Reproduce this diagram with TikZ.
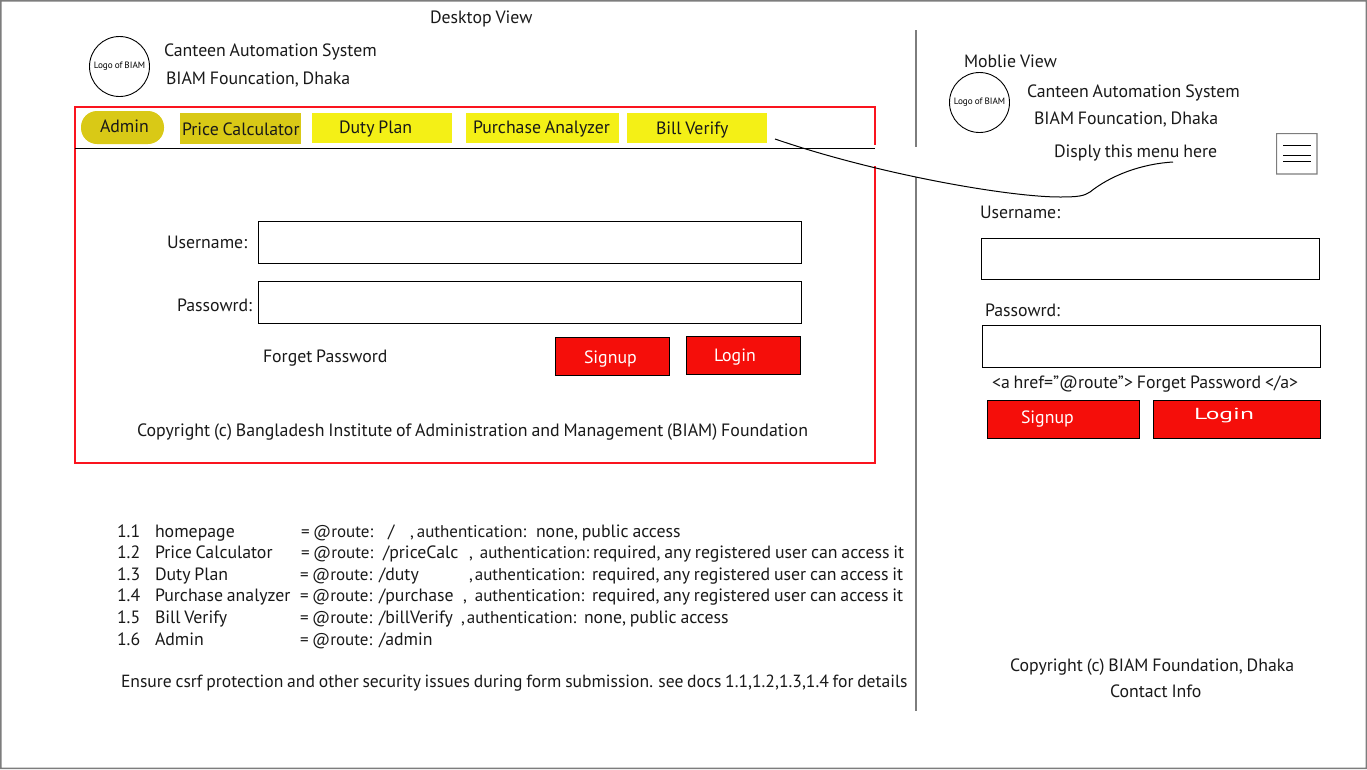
\documentclass[tikz,border=0pt]{standalone}
\usepackage{fontspec}
\setmainfont[WordSpace=0.8]{PT Sans}
\definecolor{navyellow}{RGB}{244,240,22}
\definecolor{navactive}{RGB}{217,201,22}
\definecolor{btnred}{RGB}{245,14,10}
\definecolor{framered}{RGB}{250,20,30}
\definecolor{framegray}{RGB}{125,125,125}
\definecolor{dividergray}{RGB}{125,125,125}
\tikzset{
  txt/.style={anchor=base west, inner sep=0pt, outer sep=0pt, yshift=-1pt, font=\fontsize{17.8}{18}\selectfont, text=black!90},
  smalltxt/.style={txt, font=\fontsize{17.8}{18}\selectfont},
  authtxt/.style={txt, font=\fontsize{17}{18}\selectfont},
  btntxt/.style={txt, text=white},
  logo/.style={circle, draw=black, line width=0.9pt, minimum size=60pt, inner sep=0pt, font=\fontsize{9.2}{10}\selectfont},
  navbox/.style={rectangle, anchor=north west, inner sep=0pt, outer sep=0pt, fill=navyellow},
  inputbox/.style={rectangle, anchor=north west, inner sep=0pt, outer sep=0pt, draw=black, line width=0.9pt},
  btnbox/.style={inputbox, fill=btnred},
}
\begin{document}
\begin{tikzpicture}[x=1pt, y=-1pt]

    \useasboundingbox (0,0) rectangle (1367,769);

    % outer frame
    \path[fill=framegray, even odd rule] (0,0) rectangle (1367,769) (1.5,1.5) rectangle (1365.5,767.5);

    % divider
    \path[fill=dividergray] (915,30) rectangle (917,146.5);
    \path[fill=dividergray] (915,177) rectangle (917,711);

    % desktop header
    \node[txt] (desktoptitle) at (430,22) {Desktop View};
    \node[logo] (desktoplogo) at (119.5,66.5) {Logo of BIAM};
    \node[txt] (desktopname) at (164,55) {Canteen Automation System};
    \node[txt] (desktoporg) at (166,83) {BIAM Founcation, Dhaka};

    % desktop page frame
    \path[fill=framered] (74.3,106.3) rectangle (875.7,107.7);
    \path[fill=framered] (74.3,462.3) rectangle (875.7,463.7);
    \path[fill=framered] (74.3,106.3) rectangle (75.7,463.7);
    \path[fill=framered] (874.3,106.3) rectangle (875.7,145);
    \path[fill=framered] (874.3,166) rectangle (875.7,463.7);
    \path[fill=black] (75,147.6) rectangle (875,148.6);

    % menu
    \node[navbox, fill=navactive, rounded corners=16pt, minimum width=83pt, minimum height=33pt] (adminbox) at (81,111) {};
    \node[navbox, fill=navactive, minimum width=121pt, minimum height=31pt] (pricebox) at (180,113) {};
    \node[navbox, minimum width=140pt, minimum height=30pt] (dutybox) at (312,113) {};
    \node[navbox, minimum width=153pt, minimum height=30pt] (purchasebox) at (466,113) {};
    \node[navbox, minimum width=140pt, minimum height=30pt] (billbox) at (627,113) {};
    \node[txt] (admintxt) at (100,131) {Admin};
    \node[txt] (pricetxt) at (182,134) {Price Calculator};
    \node[txt] (dutytxt) at (339,132) {Duty Plan};
    \node[txt] (purchasetxt) at (473,132) {Purchase Analyzer};
    \node[txt] (billtxt) at (656,133) {Bill Verify};

    % desktop form
    \node[txt] (userlabel) at (167,247) {Username:};
    \node[inputbox, minimum width=543.5pt, minimum height=42.5pt] (userbox) at (258,221) {};
    \node[txt] (passlabel) at (177,310) {Passowrd:};
    \node[inputbox, minimum width=543.5pt, minimum height=42.5pt] (passbox) at (258,281) {};
    \node[txt] (forgettxt) at (263,361) {Forget Password};
    \node[btnbox, minimum width=114.5pt, minimum height=38.5pt] (signupbox) at (555,337) {};
    \node[btntxt] (signuptxt) at (584,362) {Signup};
    \node[btnbox, minimum width=114.5pt, minimum height=38.5pt] (loginbox) at (686,336) {};
    \node[btntxt] (logintxt) at (714,360) {Login};
    \node[txt, font=\fontsize{17.87}{18}\selectfont] (copyrighttxt) at (137,435) {Copyright (c) Bangladesh Institute of Administration and Management (BIAM) Foundation};

    % route list
    \node[smalltxt] (num1) at (117,536) {1.1};
    \node[smalltxt] (name1) at (155,536) {homepage};
    \node[authtxt] (route1) at (301,536) {= @route:};
    \node[smalltxt] (path1) at (388,536) {/};
    \node[authtxt] (auth1) at (410,536) {,\hspace{3pt}authentication:};
    \node[smalltxt] (note1) at (536,536) {none, public access};

    \node[smalltxt] (num2) at (117,557) {1.2};
    \node[smalltxt] (name2) at (155,557) {Price Calculator};
    \node[authtxt] (route2) at (301,557) {= @route:};
    \node[smalltxt] (path2) at (383,557) {/priceCalc};
    \node[authtxt] (auth2) at (469,557) {,\hspace{7pt}authentication:};
    \node[smalltxt] (note2) at (593,557) {required, any registered user can access it};

    \node[smalltxt] (num3) at (117,579) {1.3};
    \node[smalltxt] (name3) at (155,579) {Duty Plan};
    \node[authtxt] (route3) at (300,579) {= @route:};
    \node[smalltxt] (path3) at (379,579) {/duty};
    \node[authtxt] (auth3) at (469,579) {,\hspace{2pt}authentication:};
    \node[smalltxt] (note3) at (592,579) {required, any registered user can access it};

    \node[smalltxt] (num4) at (117,600) {1.4};
    \node[smalltxt] (name4) at (155,600) {Purchase analyzer};
    \node[authtxt] (route4) at (300,600) {= @route:};
    \node[smalltxt] (path4) at (379,600) {/purchase};
    \node[authtxt] (auth4) at (463,600) {,\hspace{8pt}authentication:};
    \node[smalltxt] (note4) at (592,600) {required, any registered user can access it};

    \node[smalltxt] (num5) at (117,622) {1.5};
    \node[smalltxt] (name5) at (155,622) {Bill Verify};
    \node[authtxt] (route5) at (300,622) {= @route:};
    \node[smalltxt] (path5) at (379,622) {/billVerify};
    \node[authtxt] (auth5) at (461,622) {,\hspace{2pt}authentication:};
    \node[smalltxt] (note5) at (584,622) {none, public access};

    \node[smalltxt] (num6) at (117,644) {1.6};
    \node[smalltxt] (name6) at (155,644) {Admin};
    \node[authtxt] (route6) at (300,644) {= @route:};
    \node[smalltxt] (path6) at (379,644) {/admin};

    \node[txt, font=\fontsize{17.6}{18}\selectfont] (csrftxt) at (121,686) {Ensure csrf protection and other security issues during form submission. see docs 1.1,1.2,1.3,1.4 for details};

    % mobile header
    \node[txt] (mobiletitle) at (964,66) {Moblie View};
    \node[logo] (mobilelogo) at (979.5,102.5) {Logo of BIAM};
    \node[txt] (mobilename) at (1027,96) {Canteen Automation System};
    \node[txt] (mobileorg) at (1034,123) {BIAM Founcation, Dhaka};
    \node[txt] (menunote) at (1054,156) {Disply this menu here};

    % hamburger
    \path[fill=dividergray, even odd rule] (1276,133) rectangle (1317.5,174.5) (1277.2,134.2) rectangle (1316.3,173.3);
    \foreach \ly in {145,155,161}
        \draw[draw=black, line width=0.8pt] (1283,\ly) -- (1311,\ly);

    % mobile form
    \node[txt] (muserlabel) at (980,217) {Username:};
    \node[inputbox, minimum width=338.5pt, minimum height=41.5pt] (muserbox) at (981,238) {};
    \node[txt] (mpasslabel) at (985,315) {Passowrd:};
    \node[inputbox, minimum width=338.5pt, minimum height=42.5pt] (mpassbox) at (982,325) {};
    \node[txt] (mforgettxt) at (992,387) {<a href=”@route”> Forget Password </a>};
    \node[btnbox, minimum width=152.5pt, minimum height=38.5pt] (msignupbox) at (987,400) {};
    \node[btntxt] (msignuptxt) at (1021,422) {Signup};
    \node[btnbox, minimum width=167.5pt, minimum height=38.5pt] (mloginbox) at (1153,400) {};
    \node[btntxt, font=\fontsize{16}{18}\selectfont] (mlogintxt) at (1194,418) {\scalebox{1.6}[1]{Login}};

    \node[txt] (mcopyright) at (1010,670) {Copyright (c) BIAM Foundation, Dhaka};
    \node[txt] (mcontact) at (1110,696) {Contact Info};

    % connector from menu to mobile note
    \coordinate (menustart) at (775,139);
    \coordinate (noteend) at (1173,162);
    \draw[draw=black, line width=1pt] (menustart) .. controls (880,175) and (1010,197) .. (1060,197)
        .. controls (1078,197) and (1084,196) .. (1090,192)
        .. controls (1110,176) and (1140,164) .. (noteend);

\end{tikzpicture}
\end{document}
